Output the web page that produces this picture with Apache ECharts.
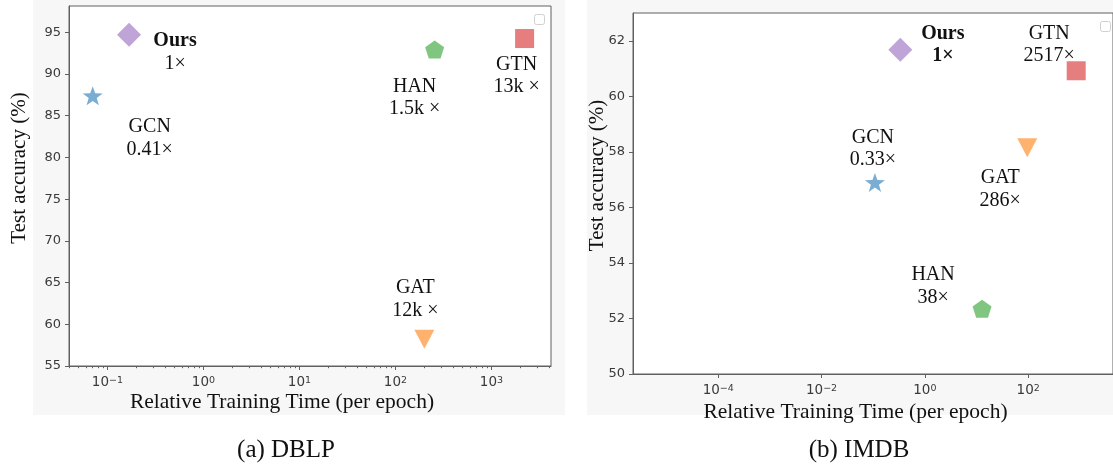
<!DOCTYPE html>
<html>
<head>
<meta charset="utf-8">
<script src="https://cdn.jsdelivr.net/npm/echarts@6/dist/echarts.min.js"></script>
<style>
html,body{margin:0;padding:0;background:#fff;}
#chart{width:1113px;height:467px;}
</style>
</head>
<body>
<div id="chart"></div>
<script>
// ---------------- data ----------------
const methods = ['Ours', 'GCN', 'HAN', 'GTN', 'GAT'];

// (a) DBLP
const dblpTime = [0.168, 0.0703, 256, 2214, 200];
const dblpAcc = [94.7, 87.4, 92.95, 94.25, 58.2];
const dblpSpeedup = ['1×', '0.41×', '1.5k ×', '13k ×', '12k ×'];

// (b) IMDB
const imdbTime = [0.335, 0.108, 12.8, 850, 96];
const imdbAcc = [61.68, 56.9, 52.35, 60.92, 58.15];
const imdbSpeedup = ['1×', '0.33×', '38×', '2517×', '286×'];

// ticks (base 10, exponent shown as superscript)
const dblpXTicks = [0.1, 1, 10, 100, 1000];
const dblpXTickExps = ['−1', '0', '1', '2', '3'];
const dblpYTicks = [55, 60, 65, 70, 75, 80, 85, 90, 95];
const imdbXTicks = [1e-4, 1e-2, 1, 100];
const imdbXTickExps = ['−4', '−2', '0', '2'];
const imdbYTicks = [50, 52, 54, 56, 58, 60, 62];

const captions = ['(a) DBLP', '(b) IMDB'];
const xTitle = 'Relative Training Time (per epoch)';
const yTitle = 'Test accuracy (%)';

// ---------------- layout / style ----------------
const dblpRange = { xMin: Math.pow(10, -1.40), xMax: Math.pow(10, 3.62), yMin: 55, yMax: 98.15 };
const imdbRange = { xMin: Math.pow(10, -5.65), xMax: Math.pow(10, 3.642), yMin: 50, yMax: 63 };

const STAR = 'path://M0,-10L2.35,-3.24L9.51,-3.09L3.8,1.24L5.88,8.09L0,4L-5.88,8.09L-3.8,1.24L-9.51,-3.09L-2.35,-3.24Z';
const PENT = 'path://M0,-100L95.1,-30.9L58.8,80.9L-58.8,80.9L-95.1,-30.9Z';

const methodStyle = {
  Ours: { color: '#bfa4d7', symbol: 'diamond', size: [24, 24], rotate: 0 },
  GCN:  { color: '#79add2', symbol: STAR, size: [20, 19], rotate: 0 },
  HAN:  { color: '#80c680', symbol: PENT, size: [19, 18], rotate: 0 },
  GTN:  { color: '#e67d7e', symbol: 'rect', size: [19, 19], rotate: 0 },
  GAT:  { color: '#ffb26e', symbol: 'triangle', size: [20, 19], rotate: 180 }
};

const dblpLabelOffset = { Ours: [46, 17.5], GCN: [57, 42.5], HAN: [-20, 48.5], GTN: [-8, 37], GAT: [-9, -40] };
const imdbLabelOffset = { Ours: [42.5, -5], GCN: [-2, -33.5], HAN: [-49, -22.5], GTN: [-27, -26], GAT: [-27, 41.5] };
const boldLines = { dblp: { Ours: [true, false] }, imdb: { Ours: [true, true] } };

const FONT_SERIF = '"Liberation Serif", "Times New Roman", serif';
const FONT_SANS = '"DejaVu Sans", sans-serif';
const TICK_COLOR = '#3a3a3a';
const SPINE_COLOR = '#606060';

const richStyles = {
  n: { fontFamily: FONT_SERIF, fontSize: 20, lineHeight: 22.5, color: '#111' },
  b: { fontFamily: FONT_SERIF, fontSize: 20, lineHeight: 22.5, color: '#111', fontWeight: 'bold' }
};

const tickRich = {
  base: { fontFamily: FONT_SANS, fontSize: 13.5, lineHeight: 13.5, color: TICK_COLOR, verticalAlign: 'bottom' },
  sup: { fontFamily: FONT_SANS, fontSize: 9.5, lineHeight: 9.5, color: TICK_COLOR, verticalAlign: 'top', padding: [0, 0, 6, 0] }
};

function tickLabelFormatter(ticks, exps) {
  return function (v) {
    const i = ticks.findIndex(t => Math.abs(Math.log10(t) - Math.log10(v)) < 1e-6);
    return i >= 0 ? '{base|10}{sup|' + exps[i] + '}' : '';
  };
}

function minorTicks(range) {
  const out = [];
  for (let e = -8; e <= 6; e++) {
    for (let k = 2; k <= 9; k++) {
      const v = k * Math.pow(10, e);
      if (v > range.xMin && v < range.xMax) out.push(v);
    }
  }
  return out;
}

function makeSeries(panel, times, accs, speedups, offsets, gridIdx) {
  return methods.map((m, i) => {
    const st = methodStyle[m];
    const bold = (boldLines[panel][m]) || [false, false];
    const l1 = '{' + (bold[0] ? 'b' : 'n') + '|' + m + '}';
    const l2 = '{' + (bold[1] ? 'b' : 'n') + '|' + speedups[i] + '}';
    return {
      type: 'scatter',
      name: m,
      xAxisIndex: gridIdx === 0 ? 0 : 2,
      yAxisIndex: gridIdx,
      symbol: st.symbol,
      symbolSize: st.size,
      symbolRotate: st.rotate,
      itemStyle: { color: st.color, opacity: 1 },
      emphasis: { disabled: true },
      silent: true,
      label: {
        show: true,
        position: 'inside',
        align: 'center',
        verticalAlign: 'middle',
        offset: offsets[m],
        formatter: l1 + '\n' + l2,
        rich: richStyles
      },
      data: [[times[i], accs[i]]]
    };
  });
}

const axisTickLine = { color: SPINE_COLOR, width: 1 };

const option = {
  backgroundColor: '#ffffff',
  animation: false,
  grid: [
    { left: 69, top: 6, width: 482, height: 360, show: true, backgroundColor: '#ffffff', borderColor: SPINE_COLOR, borderWidth: 1 },
    { left: 633, top: 13, width: 481, height: 361, show: true, backgroundColor: '#ffffff', borderColor: SPINE_COLOR, borderWidth: 1 }
  ],
  xAxis: [
    {
      type: 'log', gridIndex: 0, position: 'bottom',
      min: dblpRange.xMin, max: dblpRange.xMax,
      axisLine: { show: true, lineStyle: axisTickLine },
      axisTick: { show: true, length: 4, lineStyle: axisTickLine, customValues: dblpXTicks },
      axisLabel: { customValues: dblpXTicks, formatter: tickLabelFormatter(dblpXTicks, dblpXTickExps), rich: tickRich, margin: 10 },
      splitLine: { show: false },
      name: xTitle, nameLocation: 'middle', nameGap: 25, nameMoveOverlap: false,
      nameTextStyle: { fontFamily: FONT_SERIF, fontSize: 21.5, color: '#111', padding: [0, 56, 0, 0] }
    },
    {
      type: 'log', gridIndex: 0, position: 'bottom',
      min: dblpRange.xMin, max: dblpRange.xMax,
      axisLine: { show: false },
      axisTick: { show: true, length: 2.2, lineStyle: axisTickLine, customValues: minorTicks(dblpRange) },
      axisLabel: { show: false },
      splitLine: { show: false }
    },
    {
      type: 'log', gridIndex: 1, position: 'bottom',
      min: imdbRange.xMin, max: imdbRange.xMax,
      axisLine: { show: true, lineStyle: axisTickLine },
      axisTick: { show: true, length: 4, lineStyle: axisTickLine, customValues: imdbXTicks },
      axisLabel: { customValues: imdbXTicks, formatter: tickLabelFormatter(imdbXTicks, imdbXTickExps), rich: tickRich, margin: 10 },
      splitLine: { show: false },
      name: xTitle, nameLocation: 'middle', nameGap: 27, nameMoveOverlap: false,
      nameTextStyle: { fontFamily: FONT_SERIF, fontSize: 21.5, color: '#111', padding: [0, 35, 0, 0] }
    }
  ],
  yAxis: [
    {
      type: 'value', gridIndex: 0,
      min: dblpRange.yMin, max: dblpRange.yMax,
      axisLine: { show: true, lineStyle: axisTickLine },
      axisTick: { show: true, length: 4, lineStyle: axisTickLine, customValues: dblpYTicks },
      axisLabel: { customValues: dblpYTicks, fontFamily: FONT_SANS, fontSize: 13, color: TICK_COLOR, margin: 8 },
      splitLine: { show: false },
      name: yTitle, nameLocation: 'middle', nameGap: 39, nameMoveOverlap: false,
      nameTextStyle: { fontFamily: FONT_SERIF, fontSize: 21, color: '#111', padding: [0, 0, 0, 36] }
    },
    {
      type: 'value', gridIndex: 1,
      min: imdbRange.yMin, max: imdbRange.yMax,
      axisLine: { show: true, lineStyle: axisTickLine },
      axisTick: { show: true, length: 4, lineStyle: axisTickLine, customValues: imdbYTicks },
      axisLabel: { customValues: imdbYTicks, fontFamily: FONT_SANS, fontSize: 13, color: TICK_COLOR, margin: 8 },
      splitLine: { show: false },
      name: yTitle, nameLocation: 'middle', nameGap: 25, nameMoveOverlap: false,
      nameTextStyle: { fontFamily: FONT_SERIF, fontSize: 21, color: '#111', padding: [0, 0, 0, 36] }
    }
  ],
  graphic: {
    elements: [
      { type: 'rect', z: -10, silent: true, shape: { x: 33, y: 0, width: 532, height: 415 }, style: { fill: '#f7f7f7' } },
      { type: 'rect', z: -10, silent: true, shape: { x: 587, y: 0, width: 526, height: 415 }, style: { fill: '#f7f7f7' } },
      { type: 'rect', z: 10, silent: true, shape: { x: 534.5, y: 14.5, width: 10, height: 10, r: 2 }, style: { fill: '#fff', stroke: '#d0d0d0', lineWidth: 1 } },
      { type: 'rect', z: 10, silent: true, shape: { x: 1100.5, y: 21.5, width: 10, height: 10, r: 2 }, style: { fill: '#fff', stroke: '#d0d0d0', lineWidth: 1 } },
      { type: 'text', z: 10, silent: true, x: 286, y: 450, style: { text: captions[0], fontFamily: FONT_SERIF, fontSize: 25, fill: '#111', align: 'center', verticalAlign: 'middle' } },
      { type: 'text', z: 10, silent: true, x: 859, y: 450, style: { text: captions[1], fontFamily: FONT_SERIF, fontSize: 25, fill: '#111', align: 'center', verticalAlign: 'middle' } }
    ]
  },
  series: [].concat(
    makeSeries('dblp', dblpTime, dblpAcc, dblpSpeedup, dblpLabelOffset, 0),
    makeSeries('imdb', imdbTime, imdbAcc, imdbSpeedup, imdbLabelOffset, 1)
  )
};

const chart = echarts.init(document.getElementById('chart'), null, { renderer: 'canvas' });
chart.setOption(option);
</script>
</body>
</html>
